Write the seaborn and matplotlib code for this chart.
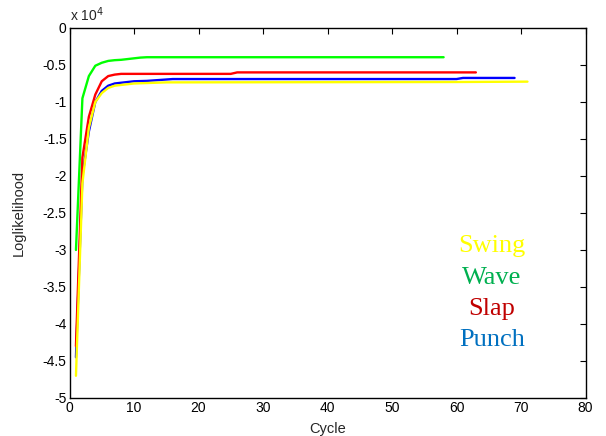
import numpy as np
import pandas as pd
import matplotlib
matplotlib.use("Agg")
import matplotlib.pyplot as plt
import seaborn as sns
from matplotlib.ticker import FuncFormatter, MultipleLocator

# ------------------------------------------------------------
# values (loglikelihood, units of 1)
# only the points where a line bends are kept
# ------------------------------------------------------------
punch_x = [1, 2, 3, 4, 5, 6, 7, 8, 9, 10, 12, 16, 60, 61, 69]
punch_y = [-44500, -20000, -14000, -10000, -8500, -7800, -7500, -7400,
           -7300, -7200, -7150, -6900, -6900, -6750, -6750]

slap_x = [1, 2, 3, 4, 5, 6, 7, 8, 25, 26, 63]
slap_y = [-43000, -17500, -12000, -9000, -7200, -6500, -6300, -6200,
          -6200, -6000, -6000]

wave_x = [1, 2, 3, 4, 5, 6, 7, 8, 9, 10, 11, 12, 58]
wave_y = [-30000, -9500, -6500, -5100, -4700, -4450, -4350, -4300,
          -4200, -4100, -4000, -3950, -3950]

swing_x = [1, 2, 3, 4, 5, 6, 7, 8, 9, 10, 15, 60, 71]
swing_y = [-47000, -21000, -13500, -10000, -8800, -8100, -7800, -7700,
           -7600, -7500, -7350, -7300, -7250]

names = ["Punch", "Slap", "Wave", "Swing"]
line_colors = {"Punch": "#0000FF", "Slap": "#FF0000",
               "Wave": "#00FF00", "Swing": "#FFFF00"}
text_colors = {"Swing": "#FFFF00", "Wave": "#00B050",
               "Slap": "#C00000", "Punch": "#0070C0"}

df = pd.concat([
    pd.DataFrame({"Cycle": punch_x, "LL": punch_y, "gesture": "Punch"}),
    pd.DataFrame({"Cycle": slap_x, "LL": slap_y, "gesture": "Slap"}),
    pd.DataFrame({"Cycle": wave_x, "LL": wave_y, "gesture": "Wave"}),
    pd.DataFrame({"Cycle": swing_x, "LL": swing_y, "gesture": "Swing"}),
], ignore_index=True)

sns.set_style("white")
plt.rcParams["font.family"] = ["Liberation Sans", "DejaVu Sans"]

fig = plt.figure(figsize=(6.06, 4.36), dpi=100)
ax = fig.add_axes([0.1147, 0.0872, 0.8515, 0.8486])

sns.lineplot(data=df, x="Cycle", y="LL", hue="gesture", hue_order=names,
             palette=line_colors, estimator=None, sort=False,
             linewidth=1.7, legend=False, ax=ax)

ax.set_xlim(0, 80)
ax.set_ylim(-50000, 0)
ax.xaxis.set_major_locator(MultipleLocator(10))
ax.yaxis.set_major_locator(MultipleLocator(5000))
ax.yaxis.set_major_formatter(FuncFormatter(lambda v, p: f"{v / 1e4:g}"))
ax.tick_params(direction="in", length=4, width=0.8, labelsize=10,
               top=True, right=True, colors="black", pad=2)

for s in ax.spines.values():
    s.set_visible(True)
    s.set_color("black")
    s.set_linewidth(1.0)

ax.set_xlabel("Cycle", fontsize=10.5, labelpad=5)
ax.set_ylabel("Loglikelihood", fontsize=10.5, labelpad=12)

# MATLAB style exponent above the axis
ax.text(0.0, 1.012, r"x 10$^{4}$", transform=ax.transAxes,
        fontsize=10, ha="left", va="bottom")

# coloured labels in place of a legend
label_y = {"Swing": 0.411, "Wave": 0.324, "Slap": 0.241, "Punch": 0.157}
for name in ["Swing", "Wave", "Slap", "Punch"]:
    ax.text(0.819, label_y[name], name, transform=ax.transAxes,
            color=text_colors[name], fontsize=19, ha="center", va="center",
            family=["Liberation Serif", "DejaVu Serif"])

fig.savefig("out.png", dpi=100)
